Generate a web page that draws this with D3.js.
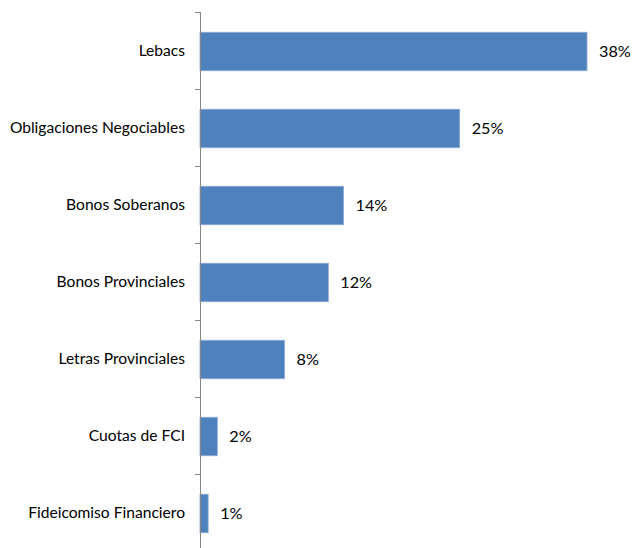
<!DOCTYPE html>
<html><head><meta charset="utf-8">
<script src="https://cdn.jsdelivr.net/npm/d3@7"></script>
<style>body{margin:0;background:#fff}svg{display:block}</style>
</head><body>
<svg id="c" width="633" height="548"></svg>
<script>
const categories = ["Lebacs","Obligaciones Negociables","Bonos Soberanos","Bonos Provinciales","Letras Provinciales","Cuotas de FCI","Fideicomiso Financiero"];
const values = [38.0, 25.5, 14.1, 12.6, 8.3, 1.7, 0.8];
const valueLabels = ["38%","25%","14%","12%","8%","2%","1%"];

const svg = d3.select("#c");
const x = d3.scaleLinear().domain([0, 38]).range([200, 587]);
const y = d3.scaleBand().domain(categories).range([13, 552]).paddingInner(0.5).paddingOuter(0.25);

// bars
svg.selectAll("rect.bar").data(categories).join("rect")
  .attr("x", x(0)).attr("y", d => y(d))
  .attr("width", (d,i) => x(values[i]) - x(0))
  .attr("height", y.bandwidth())
  .attr("fill", "#4F81BD").attr("stroke", "#8EAAD6").attr("stroke-width", 0.8);

// axis
const step = y.step();
const tickYs = d3.range(categories.length + 1).map(i => 12 + i * step);
svg.append("line").attr("x1", 200.5).attr("x2", 200.5).attr("y1", 12).attr("y2", 551)
  .attr("stroke", "#868686").attr("stroke-width", 1);
svg.selectAll("line.tick").data(tickYs).join("line")
  .attr("x1", 195).attr("x2", 200.5).attr("y1", d => Math.round(d) + 0.5).attr("y2", d => Math.round(d) + 0.5)
  .attr("stroke", "#868686").attr("stroke-width", 1);

// category labels
svg.selectAll("text.cat").data(categories).join("text")
  .attr("x", 185).attr("y", d => y(d) + y.bandwidth() / 2 - 1)
  .attr("dy", "0.35em").attr("text-anchor", "end")
  .attr("font-family", "Lato, 'Open Sans', sans-serif").attr("font-size", 15.6).attr("fill", "#000")
  .text(d => d);

// value labels
svg.selectAll("text.val").data(categories).join("text")
  .attr("x", (d,i) => x(values[i]) + 12).attr("y", d => y(d) + y.bandwidth() / 2)
  .attr("dy", "0.35em")
  .attr("font-family", "Lato, 'Open Sans', sans-serif").attr("font-size", 16.2).attr("fill", "#000")
  .text((d,i) => valueLabels[i]);
</script>
</body></html>
